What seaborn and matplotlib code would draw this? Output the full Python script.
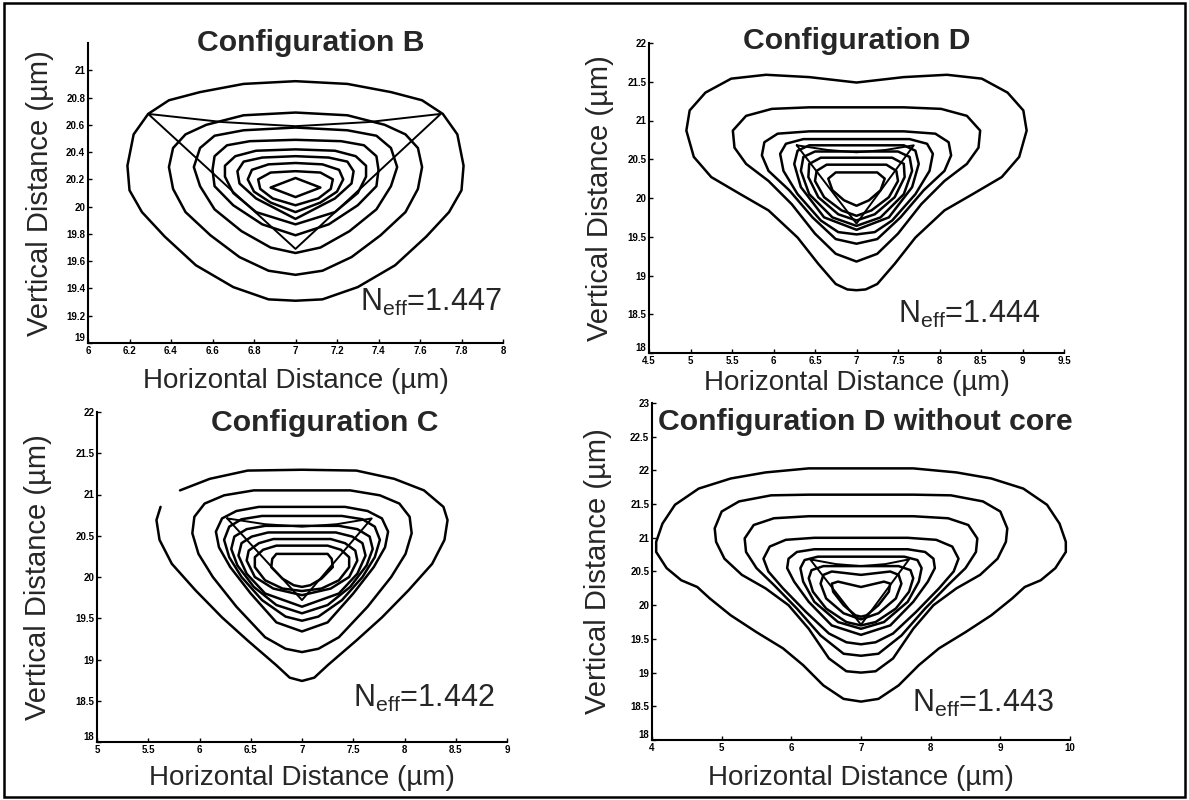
import numpy as np
import pandas as pd
import seaborn as sns
from matplotlib import pyplot as plt
from matplotlib.patches import Rectangle, Polygon

sns.set_theme(style="ticks")
plt.rcParams['font.family'] = ['Liberation Sans', 'DejaVu Sans']
plt.rcParams['mathtext.fontset'] = 'custom'
plt.rcParams['mathtext.rm'] = 'Liberation Sans'
plt.rcParams['mathtext.it'] = 'Liberation Sans:italic'

W, H = 1189, 800
CENTER = 7.0   # the fields are symmetric about x = 7 um

#############################################
# Data
# contour lines are stored as their left halves (top centre -> bottom centre)
#############################################

# Configuration B
b_x = [
    [7.0, 6.75, 6.54, 6.39, 6.29, 6.22, 6.19, 6.20, 6.26, 6.37, 6.52, 6.70, 6.87, 7.0],
    [7.0, 6.75, 6.57, 6.47, 6.41, 6.39, 6.41, 6.47, 6.59, 6.73, 6.87, 7.0],
    [7.0, 6.75, 6.61, 6.54, 6.51, 6.54, 6.61, 6.74, 6.88, 7.0],
    [7.0, 6.78, 6.67, 6.61, 6.60, 6.61, 6.70, 6.84, 7.0],
    [7.0, 6.81, 6.71, 6.66, 6.66, 6.70, 6.81, 7.0],
    [7.0, 6.84, 6.75, 6.72, 6.73, 6.81, 7.0],
    [7.0, 6.87, 6.79, 6.77, 6.80, 6.88, 7.0],
    [7.0, 6.88, 6.82, 6.83, 6.89, 7.0],
    [7.0, 6.88, 7.0],
]
b_y = [
    [20.92, 20.90, 20.84, 20.78, 20.68, 20.53, 20.30, 20.12, 19.96, 19.78, 19.57, 19.41, 19.32, 19.31],
    [20.69, 20.67, 20.60, 20.53, 20.43, 20.29, 20.13, 19.96, 19.79, 19.63, 19.53, 19.50],
    [20.58, 20.56, 20.52, 20.43, 20.29, 20.15, 19.98, 19.82, 19.70, 19.66],
    [20.49, 20.48, 20.45, 20.37, 20.27, 20.15, 20.01, 19.87, 19.79],
    [20.42, 20.41, 20.37, 20.30, 20.22, 20.10, 19.96, 19.87],
    [20.37, 20.36, 20.33, 20.26, 20.17, 20.06, 19.91],
    [20.32, 20.31, 20.27, 20.20, 20.11, 20.03, 19.96],
    [20.26, 20.25, 20.20, 20.13, 20.06, 20.01],
    [20.21, 20.14, 20.07],
]
b_tri_x = [6.29, 7.0, 7.70, 7.35, 7.0, 6.65, 6.29]
b_tri_y = [20.68, 19.69, 20.68, 20.62, 20.59, 20.62, 20.68]
b_xticks = [6, 6.2, 6.4, 6.6, 6.8, 7, 7.2, 7.4, 7.6, 7.8, 8]
b_yticks = [19, 19.2, 19.4, 19.6, 19.8, 20, 20.2, 20.4, 20.6, 20.8, 21]

# Configuration D
d_x = [
    [7.0, 6.43, 5.91, 5.49, 5.18, 4.99, 4.95, 5.04, 5.25, 5.60, 5.94, 6.29, 6.54, 6.75, 6.89, 7.0],
    [7.0, 6.43, 5.98, 5.67, 5.51, 5.53, 5.67, 5.94, 6.22, 6.50, 6.75, 7.0],
    [7.0, 6.43, 6.05, 5.89, 5.86, 5.94, 6.19, 6.47, 6.75, 7.0],
    [7.0, 6.36, 6.15, 6.08, 6.12, 6.29, 6.57, 6.78, 7.0],
    [7.0, 6.43, 6.29, 6.25, 6.33, 6.61, 7.0],
    [7.0, 6.50, 6.36, 6.33, 6.43, 6.71, 7.0],
    [7.0, 6.57, 6.43, 6.42, 6.54, 6.78, 7.0],
    [7.0, 6.64, 6.52, 6.50, 6.61, 6.82, 7.0],
    [7.0, 6.75, 6.66, 6.71, 6.85, 7.0],
]
d_y = [
    [21.49, 21.56, 21.59, 21.54, 21.36, 21.13, 20.87, 20.53, 20.27, 20.05, 19.84, 19.49, 19.15, 18.89, 18.82, 18.81],
    [21.17, 21.17, 21.15, 21.06, 20.87, 20.65, 20.44, 20.22, 19.92, 19.54, 19.28, 19.18],
    [20.86, 20.86, 20.83, 20.72, 20.55, 20.35, 20.10, 19.75, 19.47, 19.41],
    [20.76, 20.76, 20.70, 20.57, 20.35, 20.05, 19.71, 19.56, 19.53],
    [20.68, 20.68, 20.61, 20.44, 20.14, 19.75, 19.59],
    [20.60, 20.60, 20.53, 20.35, 20.05, 19.75, 19.64],
    [20.52, 20.52, 20.44, 20.27, 20.01, 19.79, 19.71],
    [20.43, 20.43, 20.35, 20.22, 20.01, 19.84, 19.77],
    [20.33, 20.33, 20.25, 20.10, 19.97, 19.90],
]
d_tri_x = [6.28, 7.0, 7.69, 7.35, 7.0, 6.65, 6.28]
d_tri_y = [20.68, 19.67, 20.68, 20.62, 20.59, 20.62, 20.68]
d_xticks = [4.5, 5, 5.5, 6, 6.5, 7, 7.5, 8, 8.5, 9, 9.5]
d_yticks = [18, 18.5, 19, 19.5, 20, 20.5, 21, 21.5, 22]

# Configuration C (outer line is broken at its upper left, between points 3 and 4)
c_outer_x = [7.0, 6.47, 6.10, 5.81, 5.62, 5.58, 5.61, 5.73, 5.96, 6.22, 6.47, 6.75, 6.88, 7.0]
c_outer_y = [21.30, 21.29, 21.19, 21.05, 20.85, 20.69, 20.45, 20.16, 19.84, 19.51, 19.23, 18.93, 18.78, 18.74]
c_gap = 4
c_x = [
    [7.0, 6.53, 6.24, 6.05, 5.95, 5.93, 5.99, 6.13, 6.36, 6.64, 6.84, 7.0],
    [7.0, 6.58, 6.36, 6.22, 6.16, 6.19, 6.30, 6.50, 6.75, 7.0],
    [7.0, 6.61, 6.41, 6.29, 6.24, 6.29, 6.41, 6.61, 6.84, 7.0],
    [7.0, 6.64, 6.46, 6.34, 6.31, 6.37, 6.53, 6.75, 7.0],
    [7.0, 6.67, 6.51, 6.41, 6.38, 6.46, 6.64, 7.0],
    [7.0, 6.72, 6.58, 6.48, 6.46, 6.54, 6.72, 7.0],
    [7.0, 6.75, 6.62, 6.54, 6.54, 6.64, 6.81, 7.0],
    [7.0, 6.75, 6.71, 6.70, 6.81, 6.92, 7.0],
]
c_y = [
    [21.05, 21.05, 20.99, 20.89, 20.73, 20.53, 20.28, 20.00, 19.64, 19.27, 19.13, 19.09],
    [20.85, 20.85, 20.80, 20.71, 20.55, 20.36, 20.12, 19.80, 19.45, 19.34],
    [20.74, 20.74, 20.70, 20.61, 20.45, 20.24, 20.00, 19.72, 19.52, 19.47],
    [20.62, 20.62, 20.58, 20.49, 20.34, 20.14, 19.88, 19.66, 19.56],
    [20.54, 20.54, 20.49, 20.41, 20.26, 20.04, 19.80, 19.64],
    [20.46, 20.46, 20.41, 20.32, 20.20, 20.00, 19.86, 19.78],
    [20.38, 20.38, 20.33, 20.24, 20.12, 19.96, 19.86, 19.83],
    [20.28, 20.28, 20.22, 20.12, 19.98, 19.90, 19.88],
]
c_tri_x = [6.27, 7.0, 7.68, 7.34, 7.0, 6.64, 6.27]
c_tri_y = [20.71, 19.72, 20.71, 20.64, 20.61, 20.64, 20.71]
c_xticks = [5, 5.5, 6, 6.5, 7, 7.5, 8, 8.5, 9]
c_yticks = [18, 18.5, 19, 19.5, 20, 20.5, 21, 21.5, 22]

# Configuration D without core
e_x = [
    [7.0, 6.25, 5.63, 5.13, 4.67, 4.33, 4.15, 4.06, 4.06, 4.21, 4.42, 4.65, 4.83, 5.13, 5.50, 5.88, 6.17, 6.46, 6.75, 7.0],
    [7.0, 6.25, 5.71, 5.25, 5.00, 4.90, 4.92, 5.04, 5.29, 5.63, 5.96, 6.25, 6.54, 6.79, 7.0],
    [7.0, 6.25, 5.75, 5.46, 5.33, 5.35, 5.50, 5.75, 6.08, 6.42, 6.75, 7.0],
    [7.0, 6.33, 5.92, 5.69, 5.60, 5.67, 5.88, 6.21, 6.54, 6.79, 7.0],
    [7.0, 6.33, 6.08, 5.96, 5.94, 6.04, 6.25, 6.58, 7.0],
    [7.0, 6.38, 6.19, 6.13, 6.17, 6.33, 6.67, 7.0],
    [7.0, 6.46, 6.29, 6.25, 6.31, 6.50, 6.79, 7.0],
    [7.0, 6.58, 6.46, 6.42, 6.50, 6.75, 7.0],
    [7.0, 6.67, 6.58, 6.60, 6.75, 6.92, 7.0],
]
e_y = [
    [22.03, 22.03, 21.97, 21.88, 21.73, 21.49, 21.21, 20.94, 20.79, 20.55, 20.37, 20.27, 20.10, 19.85, 19.60, 19.36, 19.11, 18.81, 18.61, 18.57],
    [21.64, 21.64, 21.63, 21.54, 21.39, 21.14, 20.94, 20.69, 20.45, 20.25, 20.00, 19.65, 19.21, 19.02, 19.00],
    [21.32, 21.32, 21.29, 21.19, 20.99, 20.79, 20.55, 20.30, 19.95, 19.55, 19.28, 19.25],
    [21.00, 21.00, 20.97, 20.87, 20.69, 20.50, 20.25, 19.90, 19.58, 19.45, 19.42],
    [20.83, 20.83, 20.79, 20.69, 20.55, 20.35, 20.05, 19.70, 19.56],
    [20.72, 20.72, 20.67, 20.55, 20.35, 20.05, 19.75, 19.65],
    [20.58, 20.58, 20.52, 20.40, 20.20, 19.95, 19.75, 19.70],
    [20.45, 20.50, 20.45, 20.32, 20.10, 19.88, 19.79],
    [20.27, 20.35, 20.32, 20.20, 20.00, 19.85, 19.83],
]
e_tri_x = [6.27, 7.0, 7.69, 7.35, 7.0, 6.64, 6.27]
e_tri_y = [20.68, 19.71, 20.68, 20.61, 20.58, 20.61, 20.68]
e_xticks = [4, 5, 6, 7, 8, 9, 10]
e_yticks = [18, 18.5, 19, 19.5, 20, 20.5, 21, 21.5, 22, 22.5, 23]

titles = ["Configuration B", "Configuration D", "Configuration C", "Configuration D without core"]
neff = ["1.447", "1.444", "1.442", "1.443"]


def mirror_closed(xs, ys):
    # left half + mirrored right half (the polygon closes itself)
    fx = list(xs) + [2 * CENTER - v for v in xs[::-1][1:-1]]
    fy = list(ys) + list(ys[::-1][1:-1])
    return fx, fy


def draw_loop(ax, xs, ys, lw=1.8):
    fx, fy = mirror_closed(xs, ys)
    ax.add_patch(Polygon(np.column_stack([fx, fy]), closed=True, fill=False,
                         edgecolor="black", linewidth=lw, joinstyle="round"))


def draw_line(ax, xs, ys, lw=1.8):
    sns.lineplot(x=xs, y=ys, sort=False, estimator=None, color="black",
                 linewidth=lw, ax=ax, legend=False)


def style_axes(ax, xticks, yticks, xlim, ylim):
    ax.set_xlim(*xlim)
    ax.set_ylim(*ylim)
    ax.set_xticks(xticks)
    ax.set_yticks(yticks)
    ax.set_xticklabels([f"{t:g}" for t in xticks], fontsize=7, fontweight="bold")
    ax.set_yticklabels([f"{t:g}" for t in yticks], fontsize=7, fontweight="bold")
    # corner label sits a little above the x labels, as in the original
    ax.get_yticklabels()[0].set_va("bottom")
    ax.tick_params(direction="in", length=3, width=1, pad=2, colors="black")
    sns.despine(ax=ax)
    for s in ["left", "bottom"]:
        ax.spines[s].set_linewidth(1.5)
        ax.spines[s].set_color("black")
    ax.set_facecolor("white")


fig = plt.figure(figsize=(W / 100, H / 100), dpi=100)
fig.patch.set_facecolor("white")


def px_axes(left, top, right, bottom):
    return fig.add_axes([left / W, 1 - bottom / H, (right - left) / W, (bottom - top) / H])


# panel frames in pixel coordinates: left, top, right, bottom
panels = [
    dict(box=(88, 43, 503, 343), xlim=(6, 8), ylim=(19, 21.2), xt=b_xticks, yt=b_yticks,
         xs=b_x, ys=b_y, tx=b_tri_x, ty=b_tri_y, title=(311, 51), xl_top=368, yl_right=54,
         nef=(360, 311)),
    dict(box=(649, 43, 1064, 353), xlim=(4.5, 9.5), ylim=(18, 22), xt=d_xticks, yt=d_yticks,
         xs=d_x, ys=d_y, tx=d_tri_x, ty=d_tri_y, title=(857, 49), xl_top=370, yl_right=614,
         nef=(898, 323)),
    dict(box=(97, 412, 507, 742), xlim=(5, 9), ylim=(18, 22), xt=c_xticks, yt=c_yticks,
         xs=c_x, ys=c_y, tx=c_tri_x, ty=c_tri_y, title=(325, 431), xl_top=765, yl_right=52,
         nef=(353, 707)),
    dict(box=(652, 403, 1070, 740), xlim=(4, 10), ylim=(18, 23), xt=e_xticks, yt=e_yticks,
         xs=e_x, ys=e_y, tx=e_tri_x, ty=e_tri_y, title=(865, 430), xl_top=765, yl_right=612,
         nef=(912, 712)),
]

for i, p in enumerate(panels):
    left, top, right, bottom = p["box"]
    ax = px_axes(left, top, right, bottom)

    if i == 2:
        # broken outer line of configuration C
        ox = c_outer_x[c_gap:] + [2 * CENTER - v for v in c_outer_x[::-1][1:]] + c_outer_x[1:c_gap]
        oy = c_outer_y[c_gap:] + c_outer_y[::-1][1:] + c_outer_y[1:c_gap]
        draw_line(ax, ox, oy)
    for xs, ys in zip(p["xs"], p["ys"]):
        draw_loop(ax, xs, ys)
    draw_line(ax, p["tx"], p["ty"], lw=1.4)
    style_axes(ax, p["xt"], p["yt"], p["xlim"], p["ylim"])
    ax.set_xlabel("")
    ax.set_ylabel("")

    # labels in figure pixels
    fig.text((left + right) / 2 / W, 1 - p["xl_top"] / H, "Horizontal Distance (µm)",
             ha="center", va="top", fontsize=20)
    fig.text(p["yl_right"] / W, 1 - (top + bottom) / 2 / H, "Vertical Distance (µm)",
             ha="right", va="center", rotation=90, fontsize=21)
    fig.text(p["title"][0] / W, 1 - p["title"][1] / H, titles[i],
             ha="center", va="baseline", fontsize=21.7, fontweight="bold")
    fig.text(p["nef"][0] / W, 1 - p["nef"][1] / H, r"N$_{\rm eff}$=" + neff[i],
             ha="left", va="baseline", fontsize=22)

fig.patches.append(Rectangle((4 / W, 3 / H), (W - 8) / W, (H - 6) / H, transform=fig.transFigure,
                             fill=False, edgecolor="black", linewidth=1.8))

fig.savefig("out.png", dpi=100, facecolor="white")
